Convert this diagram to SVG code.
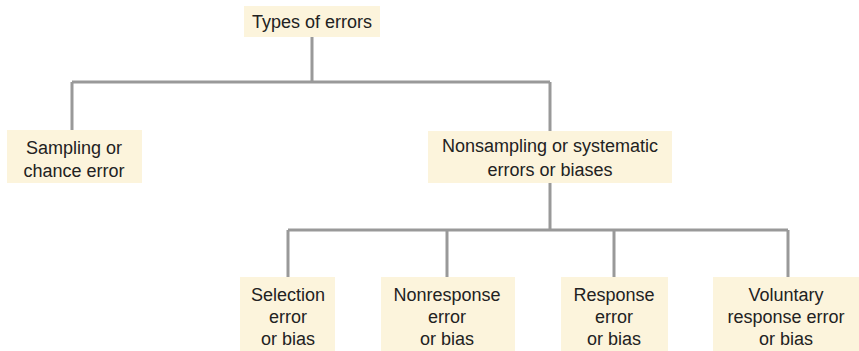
<svg xmlns="http://www.w3.org/2000/svg" width="859" height="351" viewBox="0 0 859 351">
<style>
.box{fill:#fcf4dc;}
.t{font-family:"Liberation Sans",Arial,sans-serif;font-size:18px;fill:#222;text-anchor:middle;}
.c{stroke:#999;stroke-width:3;fill:none;}
</style>
<rect width="859" height="351" fill="#fff"/>
<g id="connectors">
<path class="c" d="M312 37V82M72 82H550M72 82V130M550 82V131M550 183V230M288 230H788M288 230V277M447 230V277M614 230V277M788 230V277"/>
</g>
<g id="types">
<rect class="box" x="244" y="6" width="136" height="31"/>
<text class="t" x="312" y="28">Types of errors</text>
</g>
<g id="sampling">
<rect class="box" x="7" y="130" width="135" height="53"/>
<text class="t" x="74" y="154">Sampling or</text>
<text class="t" x="74" y="177">chance error</text>
</g>
<g id="nonsampling">
<rect class="box" x="428" y="131" width="244" height="52"/>
<text class="t" x="550" y="152">Nonsampling or systematic</text>
<text class="t" x="550" y="176">errors or biases</text>
</g>
<g id="selection">
<rect class="box" x="240" y="277" width="95" height="74"/>
<text class="t" x="288" y="301">Selection</text>
<text class="t" x="288" y="323">error</text>
<text class="t" x="288" y="345">or bias</text>
</g>
<g id="nonresponse">
<rect class="box" x="381" y="277" width="134" height="74"/>
<text class="t" x="447" y="301">Nonresponse</text>
<text class="t" x="447" y="323">error</text>
<text class="t" x="447" y="345">or bias</text>
</g>
<g id="response">
<rect class="box" x="561" y="277" width="107" height="74"/>
<text class="t" x="614" y="301">Response</text>
<text class="t" x="614" y="323">error</text>
<text class="t" x="614" y="345">or bias</text>
</g>
<g id="voluntary">
<rect class="box" x="713" y="277" width="146" height="74"/>
<text class="t" x="786" y="301">Voluntary</text>
<text class="t" x="786" y="323">response error</text>
<text class="t" x="786" y="345">or bias</text>
</g>
</svg>
